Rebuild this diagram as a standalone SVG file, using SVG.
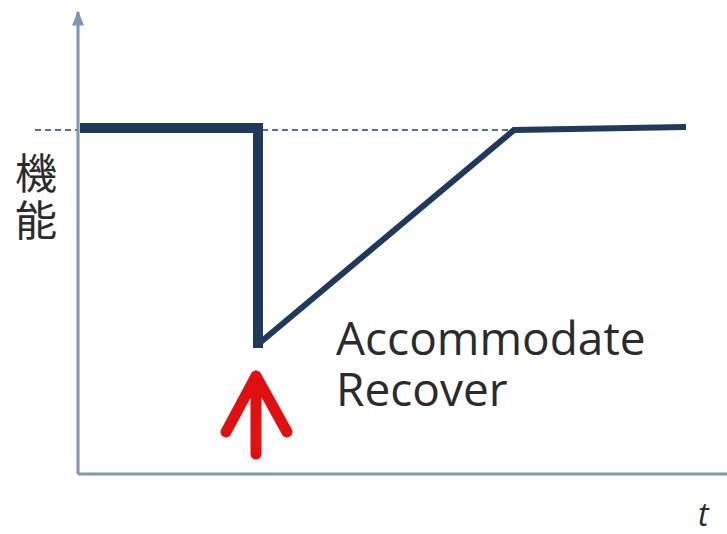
<svg xmlns="http://www.w3.org/2000/svg" width="727" height="534" viewBox="0 0 727 534">
<style>
.axis{stroke:#7f96b2;stroke-width:3;fill:none}
.dash{stroke:#5a7090;stroke-width:2;stroke-dasharray:6 4;fill:none}
.curve{stroke:#203a5c;fill:none;stroke-linejoin:miter}
.lbl{font-family:"Open Sans","Liberation Sans",sans-serif;fill:#2b2b2b}
.cjk{font-family:"Noto Sans CJK JP",sans-serif;fill:#2b2b2b}
.red{stroke:#e01010;stroke-width:11;fill:none;stroke-linecap:round;stroke-linejoin:round}
</style>
<defs>
<marker id="ah" viewBox="0 0 10 10" refX="9" refY="5" markerWidth="5" markerHeight="5" orient="auto">
<path d="M0,1 L10,5 L0,9 Z" fill="#7f96b2"/>
</marker>
</defs>
<rect width="727" height="534" fill="#fff"/>
<g id="connectors">
<path class="dash" d="M35,130 H78 M262,130 H512"/>
<path class="axis" d="M78,474 V12" marker-end="url(#ah)"/>
<path class="axis" d="M78,474 H727"/>
<path class="curve" stroke-width="10" d="M80,128 H258 V348"/>
<path class="curve" stroke-width="6" d="M256,346 L514,130 L686,127"/>
<path class="red" d="M256,454 V376 M226,432 L256,376 L287,432"/>
</g>
<g id="ylabel">
<text class="cjk" x="36" y="189" font-size="42" text-anchor="middle">機</text>
<text class="cjk" x="36" y="236" font-size="42" text-anchor="middle">能</text>
</g>
<g id="label">
<text class="lbl" x="336" y="355" font-size="46">Accommodate</text>
<text class="lbl" x="336" y="406" font-size="46">Recover</text>
</g>
<g id="tlabel">
<text class="lbl" x="698" y="526" font-size="32" font-style="italic">t</text>
</g>
</svg>
